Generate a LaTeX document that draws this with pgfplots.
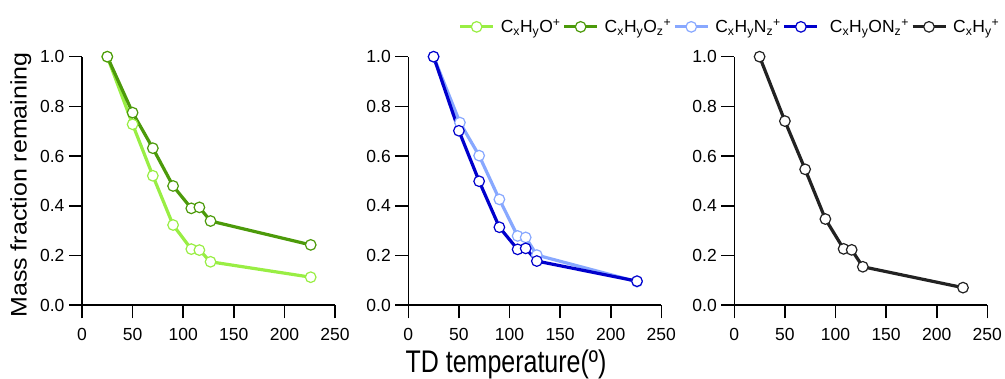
\documentclass[border=0pt]{standalone}
\usepackage{pgfplots}
\pgfplotsset{compat=1.18}
\usepackage{fontspec}
\setmainfont{Liberation Sans}
\definecolor{lgreen}{HTML}{99EE44}
\definecolor{dgreen}{HTML}{4C9A0A}
\definecolor{lblue}{HTML}{88A8FF}
\definecolor{dblue}{HTML}{0000CC}
\definecolor{blk}{HTML}{222222}
\pgfplotsset{
  panel/.style={
    scale only axis, width=253pt, height=248.6pt,
    xmin=0, xmax=250, ymin=0, ymax=1,
    axis lines*=left,
    axis line style={line width=1.6pt, black},
    tick align=outside, major tick length=13pt,
    tick style={line width=1.6pt, black},
    xtick={0,50,100,150,200,250}, ytick={0,0.2,0.4,0.6,0.8,1.0},
    yticklabel style={xshift=-1pt, /pgf/number format/.cd, fixed, fixed zerofill, precision=1},
    /pgf/number format/assume math mode=true,
    ticklabel style={font=\fontsize{17.5}{17.5}\selectfont},
    xticklabel style={yshift=-6pt},
    clip=false,
  },
  ser/.style={color=#1, line width=3.2pt, mark=*, mark size=5.3pt,
    mark options={fill=white, draw=#1, line width=1.2pt, solid}},
}
\begin{document}
\begin{tikzpicture}
\path[use as bounding box] (0,0) rectangle (1005pt,379pt);
\begin{axis}[panel, at={(82pt,73.7pt)}, anchor=south west]
\addplot[ser=lgreen] coordinates {(25,1.0) (50,0.728) (70,0.521) (90,0.323) (108,0.226) (116,0.222) (127,0.175) (226,0.113)};
\addplot[ser=dgreen] coordinates {(25,1.0) (50,0.775) (70,0.632) (90,0.480) (108,0.390) (116,0.394) (127,0.339) (226,0.243)};
\end{axis}
\begin{axis}[panel, at={(408.3pt,73.7pt)}, anchor=south west]
\addplot[ser=lblue] coordinates {(25,1.0) (51,0.735) (70,0.602) (90,0.426) (108,0.279) (116,0.273) (127,0.202) (226,0.095)};
\addplot[ser=dblue] coordinates {(25,1.0) (50,0.702) (70,0.499) (90,0.314) (108,0.225) (116,0.229) (127,0.178) (226,0.097)};
\end{axis}
\begin{axis}[panel, at={(734.3pt,73.7pt)}, anchor=south west,
  legend style={draw=none, fill=none, at={(1.068,1.12)}, anchor=east,
    legend columns=5, font=\fontsize{17.5}{17.5}\selectfont,
    /tikz/every even column/.append style={column sep=0pt},
    /tikz/every odd column/.append style={column sep=4pt}},
  legend image code/.code={\draw[mark repeat=2, mark phase=2, #1] plot coordinates {(0pt,0pt) (16.5pt,0pt) (33pt,0pt)};}]
\addlegendimage{ser=lgreen}
\addlegendimage{ser=dgreen}
\addlegendimage{ser=lblue}
\addlegendimage{ser=dblue}
\addplot[ser=blk] coordinates {(25,1.0) (50,0.741) (70,0.547) (90,0.347) (108,0.227) (116,0.223) (127,0.155) (226,0.071)};
\legend{C\textsubscript{x}H\textsubscript{y}O\textsuperscript{+}, C\textsubscript{x}H\textsubscript{y}O\textsubscript{z}\textsuperscript{+}, C\textsubscript{x}H\textsubscript{y}N\textsubscript{z}\textsuperscript{+}, \ C\textsubscript{x}H\textsubscript{y}ON\textsubscript{z}\textsuperscript{+}, C\textsubscript{x}H\textsubscript{y}\textsuperscript{+}}
\end{axis}
\node[rotate=90, anchor=base, font=\fontsize{25}{25}\selectfont] at (26.7pt,194pt) {\scalebox{1}[0.9]{Mass fraction remaining}};
\node[anchor=base, font=\fontsize{25}{25}\selectfont] at (506pt,6pt) {\scalebox{1}[1.25]{TD temperature(º)}};
\end{tikzpicture}
\end{document}
